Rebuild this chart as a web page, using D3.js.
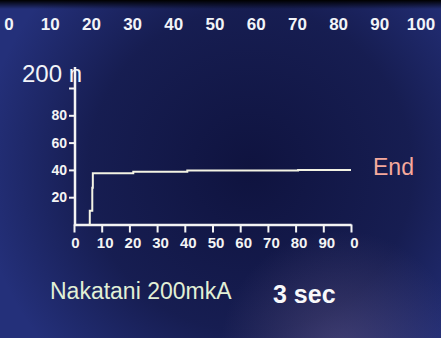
<!DOCTYPE html>
<html>
<head>
<meta charset="utf-8">
<script src="https://cdn.jsdelivr.net/npm/d3@7"></script>
<style>
    html, body { margin: 0; padding: 0; background: #171c55; }
    svg { display: block; font-family: "Liberation Sans", Arial, sans-serif; }
</style>
</head>
<body>
<svg id="chart"></svg>
<script>
// Top progress scale
const topTicks = [0, 10, 20, 30, 40, 50, 60, 70, 80, 90, 100];

// Plot axes
const xTicks = [0, 10, 20, 30, 40, 50, 60, 70, 80, 90, 100];
const xTickLabels = ["0", "10", "20", "30", "40", "50", "60", "70", "80", "90", "0"];
const yTicks = [20, 40, 60, 80, 100];
const yTickLabels = ["20", "40", "60", "80", ""];

// Measured curve (time, value)
const times = [5.3, 5.7, 6.6, 6.8, 21.4, 40.9, 80.9, 100];
const values = [0, 10, 27, 37.5, 38.7, 39.5, 40, 40];

const width = 441;
const height = 338;

const svg = d3.select("#chart").attr("width", width).attr("height", height);

// Background (photo of a screen)
const defs = svg.append("defs");

const dark = defs.append("radialGradient").attr("id", "dark")
    .attr("cx", 250).attr("cy", 170).attr("r", 270)
    .attr("gradientUnits", "userSpaceOnUse");
dark.append("stop").attr("offset", "0%").attr("stop-color", "#0f133f").attr("stop-opacity", 1);
dark.append("stop").attr("offset", "60%").attr("stop-color", "#121744").attr("stop-opacity", 0.75);
dark.append("stop").attr("offset", "100%").attr("stop-color", "#121744").attr("stop-opacity", 0);

const topBand = defs.append("linearGradient").attr("id", "topBand")
    .attr("x1", 0).attr("y1", 0).attr("x2", 0).attr("y2", 1);
topBand.append("stop").attr("offset", "0%").attr("stop-color", "#000").attr("stop-opacity", 1);
topBand.append("stop").attr("offset", "100%").attr("stop-color", "#000").attr("stop-opacity", 0);

const glow = defs.append("radialGradient").attr("id", "glow")
    .attr("cx", 340).attr("cy", 350).attr("r", 120)
    .attr("gradientUnits", "userSpaceOnUse");
glow.append("stop").attr("offset", "0%").attr("stop-color", "#6c5e8a").attr("stop-opacity", 0.45);
glow.append("stop").attr("offset", "100%").attr("stop-color", "#6c5e8a").attr("stop-opacity", 0);

svg.append("rect").attr("width", width).attr("height", height).attr("fill", "#24307a");
svg.append("rect").attr("width", width).attr("height", height).attr("fill", "url(#dark)");
svg.append("rect").attr("width", width).attr("height", height).attr("fill", "url(#glow)");
svg.append("rect").attr("width", width).attr("height", 9).attr("fill", "url(#topBand)");

// Top scale labels
const xTop = d3.scaleLinear().domain([0, 100]).range([9, 421]);

svg.append("g")
    .selectAll("text")
    .data(topTicks)
    .enter()
    .append("text")
    .attr("x", d => xTop(d))
    .attr("y", 30)
    .attr("text-anchor", "middle")
    .attr("fill", "#f2f4f8")
    .style("font-size", "17px")
    .style("font-weight", "bold")
    .text(d => d);

// Plot scales
const x = d3.scaleLinear().domain([0, 100]).range([74, 351]);
const y = d3.scaleLinear().domain([0, 100]).range([224.5, 88]);

const plot = svg.append("g");

// X axis
const xAxis = plot.append("g")
    .attr("transform", `translate(0,${y(0)})`)
    .call(d3.axisBottom(x).tickValues(xTicks).tickSize(8).tickSizeOuter(0).tickFormat((d, i) => xTickLabels[i]));

xAxis.select(".domain").attr("stroke", "#f4f4f4").attr("stroke-width", 2.5);
xAxis.selectAll(".tick line").attr("stroke", "#f4f4f4").attr("stroke-width", 2);
xAxis.selectAll(".tick text")
    .attr("fill", "#f4f4f4")
    .attr("dx", (d, i) => (i === 0 ? 1 : 3))
    .attr("dy", "0.8em")
    .style("font-size", "15px")
    .style("font-weight", "bold")
    .style("font-family", "\"Liberation Sans\", Arial, sans-serif");

// Y axis
const yAxis = plot.append("g")
    .attr("transform", `translate(${x(0) + 1},0)`)
    .call(d3.axisLeft(y).tickValues(yTicks).tickSize(6).tickSizeOuter(0).tickFormat((d, i) => yTickLabels[i]));

yAxis.select(".domain").remove();
yAxis.append("line")
    .attr("x1", 0).attr("x2", 0)
    .attr("y1", y(0) + 1).attr("y2", 67)
    .attr("stroke", "#f4f4f4")
    .attr("stroke-width", 2.5);
yAxis.selectAll(".tick line").attr("stroke", "#f4f4f4").attr("stroke-width", 2);
yAxis.selectAll(".tick text")
    .attr("fill", "#f4f4f4")
    .attr("x", -8)
    .style("font-size", "14px")
    .style("font-weight", "bold")
    .style("font-family", "\"Liberation Sans\", Arial, sans-serif");

// Y axis title
plot.append("text")
    .attr("x", 22)
    .attr("y", 82)
    .attr("fill", "#f2f4f8")
    .style("font-size", "24px")
    .text("200 n");

// Curve
const line = d3.line()
    .x(d => x(d[0]))
    .y(d => y(d[1]))
    .curve(d3.curveStepAfter);

plot.append("path")
    .datum(d3.zip(times, values))
    .attr("d", line)
    .attr("fill", "none")
    .attr("stroke", "#f3f3e4")
    .attr("stroke-width", 2);

// Status texts
svg.append("text")
    .attr("x", 373)
    .attr("y", 175)
    .attr("fill", "#f5a99c")
    .style("font-size", "23px")
    .text("End");

svg.append("text")
    .attr("x", 50)
    .attr("y", 299)
    .attr("fill", "#e2f0d6")
    .style("font-size", "23px")
    .text("Nakatani 200mkA");

svg.append("text")
    .attr("x", 273)
    .attr("y", 303)
    .attr("fill", "#f8f8fa")
    .style("font-size", "25px")
    .style("font-weight", "bold")
    .text("3 sec");
</script>
</body>
</html>
